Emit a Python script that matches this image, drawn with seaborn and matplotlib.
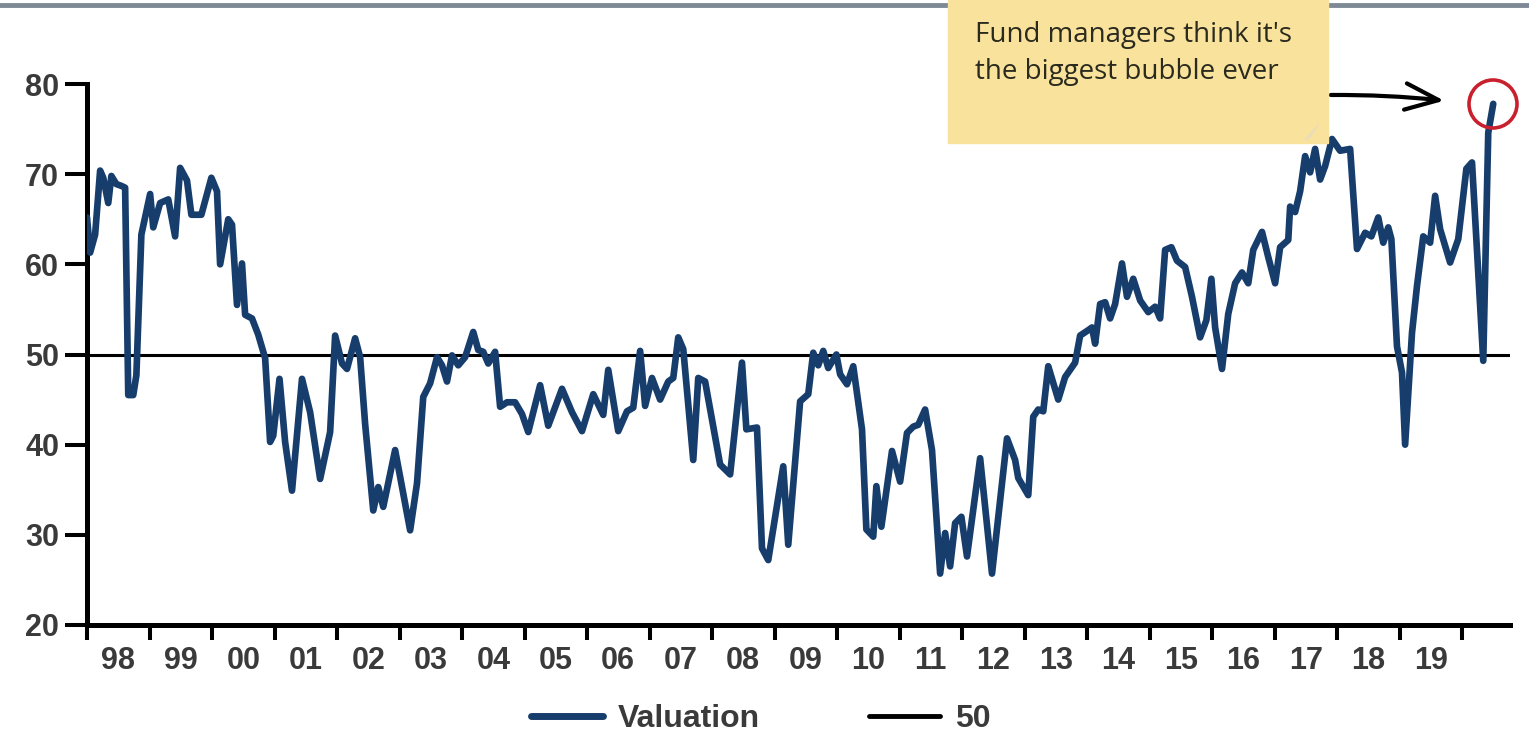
import numpy as np
import pandas as pd
import matplotlib.pyplot as plt
import seaborn as sns
from matplotlib.patches import Rectangle, Ellipse, Polygon
from matplotlib.lines import Line2D

# 数据：小数年份 与 估值读数
years = [
    1998.00, 1998.05, 1998.13, 1998.21, 1998.26, 1998.34, 1998.39, 1998.47, 1998.55, 1998.61,
    1998.66, 1998.74, 1998.79, 1998.87, 1999.01, 1999.06, 1999.17, 1999.30, 1999.41, 1999.49,
    1999.60, 1999.67, 1999.83, 1999.99, 2000.08, 2000.13, 2000.26, 2000.32, 2000.40, 2000.48,
    2000.53, 2000.64, 2000.74, 2000.85, 2000.93, 2000.98, 2001.08, 2001.17, 2001.28, 2001.44,
    2001.57, 2001.73, 2001.89, 2001.97, 2002.08, 2002.16, 2002.29, 2002.37, 2002.45, 2002.58,
    2002.66, 2002.74, 2002.93, 2003.17, 2003.28, 2003.38, 2003.49, 2003.60, 2003.68, 2003.76,
    2003.84, 2003.94, 2004.05, 2004.18, 2004.26, 2004.34, 2004.42, 2004.53, 2004.61, 2004.72,
    2004.85, 2004.96, 2005.06, 2005.25, 2005.38, 2005.60, 2005.76, 2005.92, 2006.10, 2006.26,
    2006.34, 2006.50, 2006.64, 2006.74, 2006.85, 2006.93, 2007.04, 2007.17, 2007.30, 2007.38,
    2007.46, 2007.54, 2007.70, 2007.78, 2007.89, 2008.13, 2008.29, 2008.48, 2008.55, 2008.72,
    2008.80, 2008.90, 2009.14, 2009.22, 2009.41, 2009.54, 2009.62, 2009.70, 2009.78, 2009.86,
    2009.99, 2010.05, 2010.16, 2010.26, 2010.40, 2010.47, 2010.58, 2010.63, 2010.71, 2010.88,
    2011.01, 2011.12, 2011.22, 2011.30, 2011.41, 2011.52, 2011.65, 2011.73, 2011.81, 2011.89,
    2011.99, 2012.08, 2012.29, 2012.48, 2012.72, 2012.85, 2012.90, 2013.06, 2013.14, 2013.22,
    2013.30, 2013.38, 2013.54, 2013.65, 2013.81, 2013.89, 2014.02, 2014.08, 2014.13, 2014.21,
    2014.29, 2014.37, 2014.45, 2014.56, 2014.64, 2014.74, 2014.85, 2014.98, 2015.09, 2015.17,
    2015.25, 2015.35, 2015.44, 2015.57, 2015.68, 2015.81, 2015.91, 2015.99, 2016.05, 2016.16,
    2016.26, 2016.37, 2016.48, 2016.58, 2016.66, 2016.80, 2016.90, 2017.01, 2017.09, 2017.22,
    2017.25, 2017.33, 2017.41, 2017.49, 2017.57, 2017.65, 2017.73, 2017.81, 2017.92, 2018.05,
    2018.21, 2018.32, 2018.45, 2018.55, 2018.66, 2018.74, 2018.82, 2018.87, 2018.96, 2019.04,
    2019.09, 2019.20, 2019.28, 2019.38, 2019.49, 2019.57, 2019.65, 2019.81, 2019.94, 2020.07,
    2020.16, 2020.34, 2020.42, 2020.50,
]
valuation = [
    65.2, 61.3, 63.3, 70.4, 69.6, 66.8, 69.8, 68.9, 68.7, 68.5,
    45.5, 45.5, 47.7, 63.3, 67.8, 64.1, 66.8, 67.2, 63.1, 70.7,
    69.3, 65.5, 65.5, 69.6, 68.1, 60.0, 65.0, 64.4, 55.5, 60.1,
    54.4, 54.0, 52.2, 49.6, 40.3, 41.0, 47.3, 40.3, 34.9, 47.3,
    43.6, 36.2, 41.4, 52.1, 49.0, 48.4, 51.8, 49.7, 42.3, 32.7,
    35.3, 33.1, 39.4, 30.5, 35.7, 45.3, 46.8, 49.7, 48.8, 47.0,
    49.9, 48.8, 49.7, 52.5, 50.5, 50.3, 49.0, 50.3, 44.2, 44.7,
    44.7, 43.4, 41.4, 46.6, 42.1, 46.2, 43.6, 41.5, 45.6, 43.3,
    48.3, 41.5, 43.7, 44.1, 50.4, 44.3, 47.4, 45.0, 47.0, 47.4,
    51.9, 50.6, 38.3, 47.4, 47.0, 37.8, 36.7, 49.1, 41.7, 41.9,
    28.5, 27.2, 37.6, 28.9, 44.8, 45.6, 50.2, 48.8, 50.4, 48.5,
    50.0, 47.8, 46.7, 48.7, 41.7, 30.6, 29.8, 35.4, 30.9, 39.3,
    35.9, 41.3, 42.0, 42.2, 43.9, 39.4, 25.7, 30.2, 26.5, 31.3,
    32.0, 27.6, 38.5, 25.7, 40.7, 38.3, 36.3, 34.4, 43.1, 43.9,
    43.7, 48.7, 45.0, 47.5, 49.1, 52.1, 52.7, 53.0, 51.2, 55.6,
    55.8, 54.0, 55.6, 60.1, 56.4, 58.4, 56.0, 54.7, 55.3, 54.0,
    61.6, 61.9, 60.4, 59.7, 56.4, 51.9, 53.8, 58.4, 53.0, 48.4,
    54.5, 57.9, 59.1, 57.9, 61.6, 63.6, 60.8, 57.9, 61.9, 62.7,
    66.4, 65.8, 68.1, 72.0, 70.2, 72.8, 69.4, 70.9, 73.9, 72.6,
    72.8, 61.7, 63.5, 63.1, 65.2, 62.4, 64.1, 62.8, 50.9, 48.0,
    40.0, 52.4, 57.6, 63.1, 62.4, 67.6, 63.9, 60.2, 62.8, 70.6,
    71.3, 49.3, 74.6, 77.8,
]
year_labels = ['98', '99', '00', '01', '02', '03', '04', '05', '06', '07', '08',
               '09', '10', '11', '12', '13', '14', '15', '16', '17', '18', '19']
y_ticks = [20, 30, 40, 50, 60, 70, 80]
threshold = 50
note_lines = ["Fund managers think it's", "the biggest bubble ever"]

df = pd.DataFrame({'year': years, 'valuation': valuation})

sns.set_style("white")
plt.rcParams['font.family'] = ['Liberation Sans', 'DejaVu Sans']

W, H = 1529, 737
fig = plt.figure(figsize=(W / 100, H / 100), dpi=100)
ax = fig.add_axes([87 / W, 1 - 625 / H, (1510 - 87) / W, (625 - 84) / H])

navy = '#173d6c'
sns.lineplot(data=df, x='year', y='valuation', color=navy, lw=4.8, ax=ax,
             estimator=None, sort=False, zorder=3,
             solid_joinstyle='round', solid_capstyle='round')
ax.axhline(threshold, color='black', lw=2.2, zorder=2)

ax.set_xlim(1998.0, 1998.0 + (1510 - 87) / 62.5)
ax.set_ylim(20, 80)
ax.set_xlabel('')
ax.set_ylabel('')

# 坐标轴样式
for s in ['top', 'right']:
    ax.spines[s].set_visible(False)
for s in ['left', 'bottom']:
    ax.spines[s].set_linewidth(3.6)
    ax.spines[s].set_color('black')

ax.set_yticks(y_ticks)
ax.tick_params(axis='y', length=16, width=2.9, color='black', pad=4,
               labelsize=22, labelcolor='#3a3a3a', left=True)
for lbl in ax.get_yticklabels():
    lbl.set_fontweight('bold')

ax.set_xticks(list(range(1998, 2021)))
ax.set_xticklabels([])
ax.tick_params(axis='x', which='major', length=11, width=2.9, color='black', bottom=True)
ax.set_xticks([y + 0.5 for y in range(1998, 2020)], minor=True)
ax.set_xticklabels(year_labels, minor=True)
ax.tick_params(axis='x', which='minor', length=0, pad=15, labelsize=22,
               labelcolor='#3a3a3a', bottom=True)
for lbl in ax.get_xticklabels(minor=True):
    lbl.set_fontweight('bold')

# 图例
handles = [Line2D([], [], color=navy, lw=5), Line2D([], [], color='black', lw=3.5)]
fig.legend(handles, ['Valuation', str(threshold)], loc='center', ncol=2,
           bbox_to_anchor=(761 / W, 18 / H), frameon=False,
           prop={'size': 23, 'weight': 'bold'}, labelcolor='#3a3a3a',
           handlelength=2.25, handletextpad=0.47, columnspacing=3.4)

# 顶部灰条（标题被截掉）
fig.add_artist(Line2D([0, 1], [1 - 5 / H, 1 - 5 / H], color='#7d8a96', lw=3.5,
                      transform=fig.transFigure, zorder=1))

# 便签
fig.add_artist(Rectangle((948 / W, 1 - 143 / H), (1328 - 948) / W, 143 / H,
                         transform=fig.transFigure, color='#f9e29c', zorder=5))
fig.add_artist(Polygon([(1305 / W, 1 - 140 / H), (1318 / W, 1 - 125 / H), (1310 / W, 1 - 137 / H)],
                       closed=True, transform=fig.transFigure, color='#e9dcb8', zorder=6))
for i, line in enumerate(note_lines):
    fig.text(975 / W, 1 - (35 + 37 * i) / H, line, fontsize=20, family='Open Sans',
             color='#2a2a1e', va='center', ha='left', zorder=7)

# 箭头与红圈
fig.add_artist(plt.Annotation('', xy=(1447 / W, 1 - 101 / H), xytext=(1328 / W, 1 - 95 / H),
                              xycoords='figure fraction', textcoords='figure fraction',
                              arrowprops=dict(arrowstyle='->,head_length=2.4,head_width=0.95',
                                              color='black', lw=3.0, mutation_scale=10,
                                              capstyle='round', joinstyle='round',
                                              connectionstyle='arc3,rad=-0.03')))
fig.add_artist(Ellipse((1493 / W, 1 - 104 / H), 48 / W, 48 / H, fill=False,
                       ec='#c9202e', lw=2.6, transform=fig.transFigure, zorder=8))

fig.savefig('out.png', dpi=100)
